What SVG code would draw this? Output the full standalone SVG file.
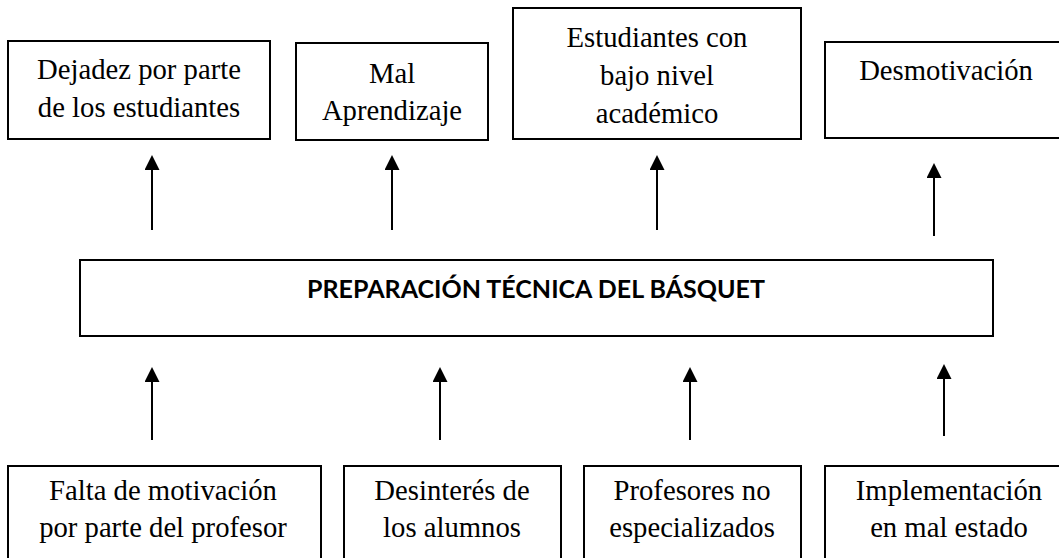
<svg xmlns="http://www.w3.org/2000/svg" width="1059" height="558" viewBox="0 0 1059 558">
<defs>
<style>
.box{fill:#fff;stroke:#000;stroke-width:2}
.t{font-size:28.7px;fill:#000;text-anchor:middle}
.c{font-weight:bold;font-size:25px;fill:#000;text-anchor:middle}
.arr{stroke:#000;stroke-width:2;fill:none}
</style>
<marker id="ah" markerUnits="userSpaceOnUse" markerWidth="15" markerHeight="15" viewBox="0 0 15 15" refX="0" refY="7.5" orient="auto">
<path d="M0,0 L15,7.5 L0,15 Z" fill="#000"/>
</marker>
</defs>
<rect width="1059" height="558" fill="#fff"/>
<g id="connectors">
<line class="arr" x1="152" y1="230" x2="152" y2="170" marker-end="url(#ah)"/>
<line class="arr" x1="392" y1="230" x2="392" y2="170" marker-end="url(#ah)"/>
<line class="arr" x1="657" y1="230" x2="657" y2="170" marker-end="url(#ah)"/>
<line class="arr" x1="934" y1="236" x2="934" y2="178" marker-end="url(#ah)"/>
<line class="arr" x1="152" y1="440" x2="152" y2="382" marker-end="url(#ah)"/>
<line class="arr" x1="440" y1="440" x2="440" y2="382" marker-end="url(#ah)"/>
<line class="arr" x1="690" y1="440" x2="690" y2="382" marker-end="url(#ah)"/>
<line class="arr" x1="944" y1="436" x2="944" y2="379" marker-end="url(#ah)"/>
</g>
<g id="n-dejadez" font-family="Liberation Serif, Times New Roman, serif">
<rect class="box" x="8" y="41" width="262" height="98"/>
<text class="t" x="139" y="79">Dejadez por parte</text>
<text class="t" x="139" y="117">de los estudiantes</text>
</g>
<g id="n-mal" font-family="Liberation Serif, Times New Roman, serif">
<rect class="box" x="296" y="43" width="192" height="97"/>
<text class="t" x="392" y="83">Mal</text>
<text class="t" x="392" y="120">Aprendizaje</text>
</g>
<g id="n-estudiantes" font-family="Liberation Serif, Times New Roman, serif">
<rect class="box" x="513" y="8" width="288" height="131"/>
<text class="t" x="657" y="47">Estudiantes con</text>
<text class="t" x="657" y="85">bajo nivel</text>
<text class="t" x="657" y="123">académico</text>
</g>
<g id="n-desmotivacion" font-family="Liberation Serif, Times New Roman, serif">
<rect class="box" x="825" y="42" width="250" height="96"/>
<text class="t" x="946" y="80">Desmotivación</text>
</g>
<g id="n-central" font-family="Lato, Open Sans, sans-serif">
<rect class="box" x="80" y="260" width="913" height="76"/>
<text class="c" x="536" y="298" textLength="458" lengthAdjust="spacing">PREPARACIÓN TÉCNICA DEL BÁSQUET</text>
</g>
<g id="n-falta" font-family="Liberation Serif, Times New Roman, serif">
<rect class="box" x="8" y="466" width="313" height="110"/>
<text class="t" x="163" y="500">Falta de motivación</text>
<text class="t" x="163" y="537">por parte del profesor</text>
</g>
<g id="n-desinteres" font-family="Liberation Serif, Times New Roman, serif">
<rect class="box" x="344" y="466" width="217" height="110"/>
<text class="t" x="452" y="500">Desinterés de</text>
<text class="t" x="452" y="537">los alumnos</text>
</g>
<g id="n-profesores" font-family="Liberation Serif, Times New Roman, serif">
<rect class="box" x="584" y="466" width="217" height="110"/>
<text class="t" x="692" y="500">Profesores no</text>
<text class="t" x="692" y="537">especializados</text>
</g>
<g id="n-implementacion" font-family="Liberation Serif, Times New Roman, serif">
<rect class="box" x="825" y="466" width="250" height="110"/>
<text class="t" x="949" y="500">Implementación</text>
<text class="t" x="949" y="537">en mal estado</text>
</g>
</svg>
